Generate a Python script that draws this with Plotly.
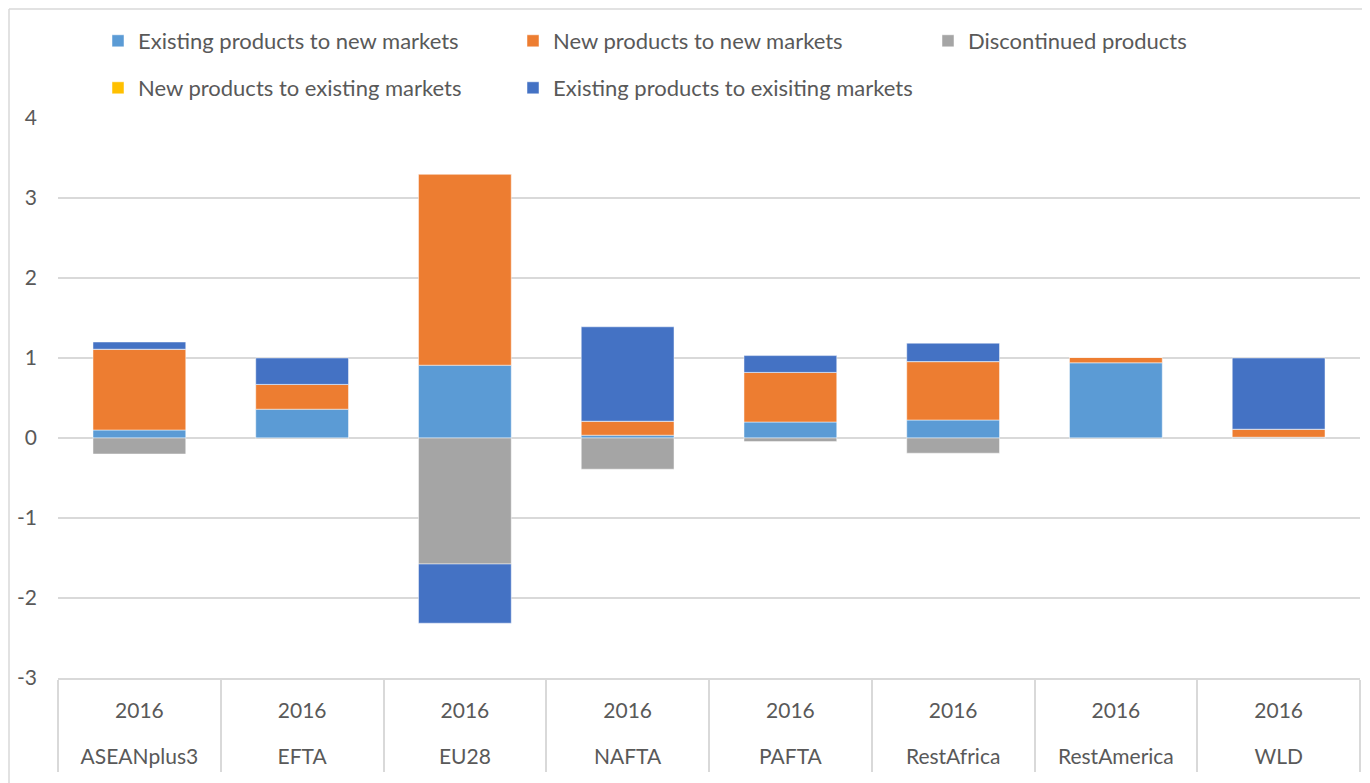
import plotly.graph_objects as go

regions = ["ASEANplus3", "EFTA", "EU28", "NAFTA", "PAFTA", "RestAfrica", "RestAmerica", "WLD"]
years = ["2016"] * 8

series_names = [
    "Existing products to new markets",
    "New products to new markets",
    "Discontinued products",
    "New products to existing markets",
    "Existing products to exisiting markets",
]
existing_new = [0.10, 0.36, 0.91, 0.035, 0.20, 0.225, 0.94, 0.01]
new_new = [1.01, 0.31, 2.39, 0.175, 0.62, 0.73, 0.07, 0.10]
discontinued = [-0.20, -0.01, -1.575, -0.39, -0.045, -0.19, -0.01, -0.01]
new_existing = [0.0, 0.0, 0.0, 0.0, 0.0, 0.0, 0.0, 0.0]
existing_existing = [0.09, 0.33, -0.74, 1.18, 0.21, 0.23, 0.0, 0.89]

y_ticks = [-3, -2, -1, 0, 1, 2, 3, 4]
y_ticktext = ["-3", "-2", "-1", "0", "1", "2", "3", "4"]

colors = ["#5B9BD5", "#ED7D31", "#A5A5A5", "#FFC000", "#4472C4"]
values = [existing_new, new_new, discontinued, new_existing, existing_existing]
legend_ids = ["legend", "legend", "legend", "legend2", "legend2"]

FONT = "Lato"
TXT = "#595959"
GRID = "#D9D9D9"
# page body adds an 8px offset, so the figure is sized to fit the window
W, H = 1362, 775
L, R, T, B = 50, 10, 110, 105

fig = go.Figure()
for name, vals, col, lg in zip(series_names, values, colors, legend_ids):
    fig.add_trace(go.Bar(
        x=regions, y=vals, name=name,
        marker=dict(color=col, line=dict(color="rgba(255,255,255,0.6)", width=0.8)),
        legend=lg,
    ))

idx = list(range(len(regions)))
# invisible helper traces that carry the two rows of category labels
fig.add_trace(go.Scatter(x=idx, y=[0] * len(idx), xaxis="x2", mode="markers",
                         marker=dict(opacity=0), showlegend=False, hoverinfo="skip"))
fig.add_trace(go.Scatter(x=idx, y=[0] * len(idx), xaxis="x3", mode="markers",
                         marker=dict(opacity=0), showlegend=False, hoverinfo="skip"))

leg_common = dict(orientation="h", xref="container", yref="container",
                  xanchor="left", yanchor="middle",
                  font=dict(family=FONT, size=22, color=TXT),
                  entrywidth=370, entrywidthmode="pixels",
                  itemwidth=30, traceorder="normal", bgcolor="rgba(0,0,0,0)")

label_axis = dict(overlaying="x", anchor="y", side="bottom", type="linear",
                  range=[-0.5, len(regions) - 0.5], showgrid=False, zeroline=False,
                  showline=False, ticks="", automargin=False, tickvals=idx,
                  tickfont=dict(family=FONT, size=21, color=TXT))

fig.update_layout(
    width=W, height=H,
    barmode="relative", bargap=0.43,
    plot_bgcolor="white", paper_bgcolor="white",
    margin=dict(l=L, r=R, t=T, b=B, autoexpand=False),
    font=dict(family=FONT, size=21, color=TXT),
    legend=dict(x=90 / W, y=1 - 33 / H, **leg_common),
    legend2=dict(x=90 / W, y=1 - 80 / H, **leg_common),
    yaxis=dict(range=[-3, 4], tickvals=y_ticks, ticktext=y_ticktext,
               showgrid=True, gridcolor=GRID, gridwidth=1.5,
               zeroline=True, zerolinecolor=GRID, zerolinewidth=1.5,
               tickfont=dict(family=FONT, size=21, color=TXT),
               ticklabelstandoff=20, automargin=False),
    xaxis=dict(type="category", showline=True, linecolor=GRID, linewidth=1.5,
               showgrid=False, showticklabels=False,
               ticks="outside", tickson="boundaries", ticklen=92,
               tickcolor=GRID, tickwidth=1.5, automargin=False),
    xaxis2=dict(ticktext=years, ticklabelstandoff=18, **label_axis),
    xaxis3=dict(ticktext=regions, ticklabelstandoff=64, **label_axis),
)
# outer chart border (left and top edges visible)
pw, ph = W - L - R, H - T - B
fig.add_shape(type="line", xref="paper", yref="paper",
              x0=(1 - L) / pw, x1=(1 - L) / pw, y0=-B / ph - 0.01, y1=1 + (T - 1) / ph,
              line=dict(color=GRID, width=1.5))
fig.add_shape(type="line", xref="paper", yref="paper",
              x0=(1 - L) / pw, x1=1 + R / pw + 0.01, y0=1 + (T - 1) / ph, y1=1 + (T - 1) / ph,
              line=dict(color=GRID, width=1.5))

fig.write_html("out.html")
